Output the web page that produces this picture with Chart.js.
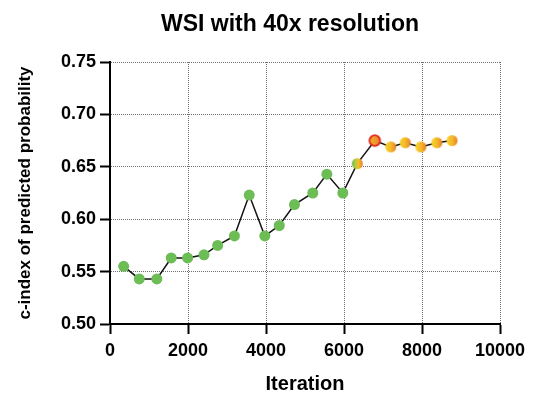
<!DOCTYPE html>
<html>
<head>
<meta charset="utf-8">
<script src="https://cdn.jsdelivr.net/npm/chart.js@4/dist/chart.umd.min.js"></script>
<style>
  html, body { margin: 0; padding: 0; background: #ffffff; }
  #wrap { width: 535px; height: 399px; }
</style>
</head>
<body>
<div id="wrap"><canvas id="c" width="535" height="399"></canvas></div>
<script>
// Training curve: c-index of predicted probability against iteration
const chartTitle = 'WSI with 40x resolution';
const xTitle = 'Iteration';
const yTitle = 'c-index of predicted probability';

const iterations = [350, 750, 1200, 1570, 1990, 2410, 2760, 3190, 3570, 3970, 4340,
                    4730, 5200, 5560, 5970, 6340, 6790, 7200, 7570, 7970, 8380, 8770];
const cIndex = [0.555, 0.543, 0.543, 0.563, 0.563, 0.566, 0.575, 0.584, 0.623, 0.584, 0.594,
                0.614, 0.625, 0.643, 0.625, 0.653, 0.675, 0.669, 0.673, 0.669, 0.673, 0.675];
// phase of each checkpoint: early, transition, best, late
const phase = ['early', 'early', 'early', 'early', 'early', 'early', 'early', 'early',
               'early', 'early', 'early', 'early', 'early', 'early', 'early',
               'transition', 'best', 'late', 'late', 'late', 'late', 'late'];

const xTicks = [0, 2000, 4000, 6000, 8000, 10000];
const yTicks = [0.50, 0.55, 0.60, 0.65, 0.70, 0.75];

const FONT = '"Liberation Sans", Arial, Helvetica, sans-serif';
const GREEN = '#6cbd56';

// Small round markers with a left-to-right colour gradient
function gradientDot(radius, stops, ring, ringWidth) {
  const pad = ring ? ringWidth : 0;
  const size = Math.ceil((radius + pad) * 2) + 2;
  const cv = document.createElement('canvas');
  cv.width = size; cv.height = size;
  const g = cv.getContext('2d');
  const c = size / 2;
  const grad = g.createLinearGradient(c - radius, 0, c + radius, 0);
  stops.forEach(([o, col]) => grad.addColorStop(o, col));
  g.beginPath();
  g.arc(c, c, radius, 0, Math.PI * 2);
  g.fillStyle = grad;
  g.fill();
  if (ring) {
    g.lineWidth = ringWidth;
    g.strokeStyle = ring;
    g.stroke();
  }
  return cv;
}

const markers = {
  early: 'circle',
  transition: gradientDot(5.5, [[0, '#6cbd56'], [0.35, '#b9c93a'], [0.6, '#f2c12a'], [1, '#ea7a2c']]),
  best: gradientDot(5.3, [[0, '#f0b52a'], [1, '#e9832c']], '#e2261c', 1.8),
  late: gradientDot(5.5, [[0, '#f8d52a'], [0.55, '#f3b62a'], [1, '#ea7d2c']])
};

const points = iterations.map((it, i) => ({ x: it, y: cIndex[i] }));

const titlePlugin = {
  id: 'centredTitle',
  afterDraw(chart) {
    const ctx = chart.ctx;
    ctx.save();
    ctx.font = 'bold 23px ' + FONT;
    ctx.fillStyle = '#000';
    ctx.textAlign = 'center';
    ctx.textBaseline = 'middle';
    ctx.fillText(chartTitle, 290, 25);
    ctx.restore();
  }
};

new Chart(document.getElementById('c'), {
  type: 'line',
  data: {
    datasets: [{
      data: points,
      borderColor: '#111',
      borderWidth: 1.5,
      tension: 0,
      fill: false,
      pointStyle: phase.map(p => markers[p]),
      pointRadius: 5.5,
      pointBackgroundColor: GREEN,
      pointBorderWidth: 0,
      pointBorderColor: GREEN,
      clip: false
    }]
  },
  options: {
    responsive: false,
    devicePixelRatio: 1,
    animation: false,
    events: [],
    layout: { padding: { left: 10, right: 35, top: 62, bottom: 0 } },
    plugins: {
      legend: { display: false },
      tooltip: { enabled: false },
      title: { display: false }
    },
    scales: {
      x: {
        type: 'linear',
        min: 0,
        max: 10000,
        afterBuildTicks(scale) { scale.ticks = xTicks.map(v => ({ value: v })); },
        afterFit(scale) { scale.height = 75; },
        ticks: {
          color: '#000',
          font: { family: FONT, size: 18, weight: 'bold' },
          padding: 6,
          maxRotation: 0,
          autoSkip: false,
          callback: v => String(v)
        },
        grid: {
          color: '#6e6e6e',
          lineWidth: 1,
          tickLength: 10,
          tickColor: '#000',
          tickWidth: 2
        },
        border: { display: true, color: '#000', width: 2, dash: [1, 1] },
        title: {
          display: true,
          text: xTitle,
          color: '#000',
          font: { family: FONT, size: 20, weight: 'bold' },
          padding: { top: 0, bottom: 3 }
        }
      },
      y: {
        type: 'linear',
        min: 0.5,
        max: 0.75,
        afterBuildTicks(scale) { scale.ticks = yTicks.map(v => ({ value: v })); },
        afterFit(scale) { scale.width = 100; },
        ticks: {
          color: '#000',
          font: { family: FONT, size: 18, weight: 'bold' },
          padding: 4,
          callback: v => Number(v).toFixed(2)
        },
        grid: {
          color: '#6e6e6e',
          lineWidth: 1,
          tickLength: 10,
          tickColor: '#000',
          tickWidth: 2
        },
        border: { display: true, color: '#000', width: 2, dash: [1, 1] },
        title: {
          display: true,
          text: yTitle,
          color: '#000',
          font: { family: FONT, size: 17, weight: 'bold' },
          padding: { top: 5, bottom: 0 }
        }
      }
    }
  },
  plugins: [titlePlugin]
});
</script>
</body>
</html>
